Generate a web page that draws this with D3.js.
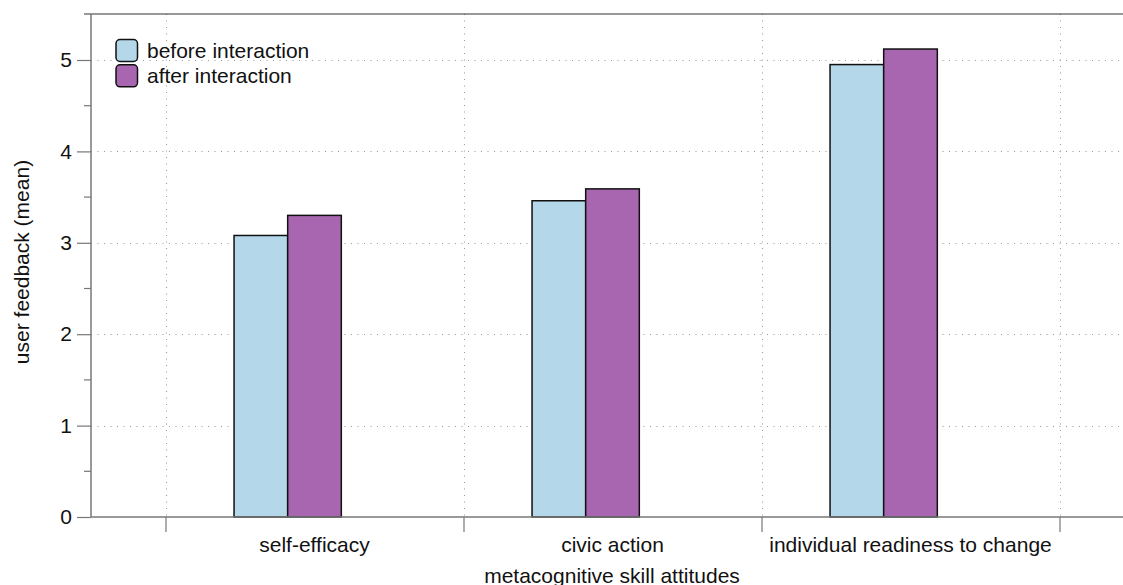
<!DOCTYPE html>
<html><head><meta charset="utf-8">
<script src="https://cdn.jsdelivr.net/npm/d3@7"></script>
<style>
body{margin:0;background:#fff;}
text{font-family:"Liberation Sans",Arial,Helvetica,sans-serif;fill:#111;}
</style></head>
<body><svg id="chart" width="1123" height="585"></svg>
<script>
const categories = ["self-efficacy","civic action","individual readiness to change"];
const seriesNames = ["before interaction","after interaction"];
const beforeValues = [3.08, 3.46, 4.95];
const afterValues = [3.30, 3.59, 5.12];
const yTicks = [0,1,2,3,4,5];
const yMinorTicks = [0.5,1.5,2.5,3.5,4.5];
const colors = ["#b4d7e9","#a966b0"];
const FS = 21;

const svg = d3.select("#chart");
const x = d3.scaleLinear().domain([0.25, 3.75]).range([91, 1134]);
const y = d3.scaleLinear().domain([0, 5.5]).range([517, 14.3]);
const boundaries = [0.5,1.5,2.5,3.5];

// gridlines
const grid = svg.append("g").attr("stroke","#999").attr("stroke-width",1).attr("stroke-dasharray","1,5.5");
grid.selectAll("line.h").data(yTicks.filter(d=>d>0)).enter().append("line")
  .attr("x1",91).attr("x2",1123).attr("y1",d=>Math.round(y(d))+0.5).attr("y2",d=>Math.round(y(d))+0.5);
grid.selectAll("line.v").data(boundaries).enter().append("line")
  .attr("y1",14).attr("y2",517).attr("x1",d=>Math.round(x(d))+0.5).attr("x2",d=>Math.round(x(d))+0.5);

// bars
const series = [beforeValues, afterValues];
const bw = 0.18;
series.forEach((vals, s) => {
  svg.append("g").selectAll("rect").data(vals).enter().append("rect")
    .attr("x", (d,i) => x(i + 1 - 0.27 + s*bw))
    .attr("width", x(bw) - x(0))
    .attr("y", d => y(d))
    .attr("height", d => y(0) - y(d))
    .attr("fill", colors[s]).attr("stroke","#111").attr("stroke-width",1.5);
});

// top border
svg.append("line").attr("x1",84).attr("x2",1123).attr("y1",14).attr("y2",14).attr("stroke","#333").attr("stroke-width",1.2);

// y axis
const yAxis = d3.axisLeft(y).tickValues(yTicks).tickSize(14).tickPadding(5).tickFormat(d3.format("d"));
const yg = svg.append("g").attr("transform","translate(91,0)").call(yAxis);
yg.select(".domain").remove();
yg.selectAll(".tick line").attr("stroke","#777").attr("stroke-width",1.2);
yg.selectAll(".tick text").attr("font-size",FS).attr("fill","#111").style("font-family","Liberation Sans, Arial, sans-serif");
yg.selectAll("line.minor").data(yMinorTicks).enter().append("line")
  .attr("x1",-7).attr("x2",0).attr("y1",d=>y(d)).attr("y2",d=>y(d)).attr("stroke","#777").attr("stroke-width",1.2);
svg.append("line").attr("x1",91).attr("x2",91).attr("y1",14).attr("y2",517).attr("stroke","#777").attr("stroke-width",1.5);

// x axis
svg.append("line").attr("x1",91).attr("x2",1123).attr("y1",517).attr("y2",517).attr("stroke","#777").attr("stroke-width",1.5);
const xAxis = d3.axisBottom(x).tickValues(boundaries).tickSize(15).tickFormat("");
const xg = svg.append("g").attr("transform","translate(0,517)").call(xAxis);
xg.select(".domain").remove();
xg.selectAll(".tick line").attr("stroke","#777").attr("stroke-width",1.2);
svg.append("g").selectAll("text").data(categories).enter().append("text")
  .attr("x",(d,i)=>x(i+1)).attr("y",552).attr("text-anchor","middle").attr("font-size",FS).text(d=>d);

// axis titles
svg.append("text").attr("x",612).attr("y",583).attr("text-anchor","middle").attr("font-size",FS).text("metacognitive skill attitudes");
svg.append("text").attr("transform","translate(29,262) rotate(-90)").attr("text-anchor","middle").attr("font-size",FS).text("user feedback (mean)");

// legend
const lg = svg.append("g");
seriesNames.forEach((n,i)=>{
  lg.append("rect").attr("x",116).attr("y",39.5+i*25.3).attr("width",21.5).attr("height",22).attr("rx",4)
    .attr("fill",colors[i]).attr("stroke","#111").attr("stroke-width",1.5);
  lg.append("text").attr("x",147).attr("y",57.5+i*25).attr("font-size",FS).text(n);
});
</script></body></html>
